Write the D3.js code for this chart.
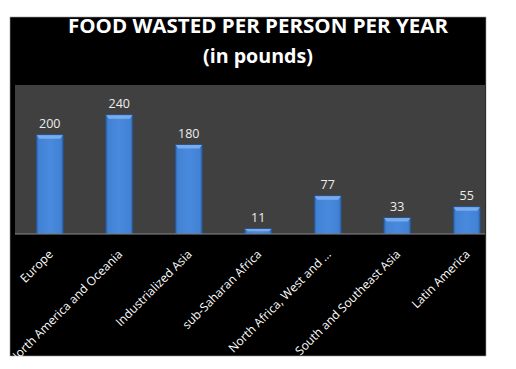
<!DOCTYPE html>
<html>
<head>
<meta charset="utf-8">
<script src="https://cdn.jsdelivr.net/npm/d3@7"></script>
<style>
  html, body { margin: 0; padding: 0; background: #fff; }
  svg { display: block; }
</style>
</head>
<body>
<div id="chart"></div>
<script>
// data
const regions = ["Europe", "North America and Oceania", "Industrialized Asia", "sub-Saharan Africa",
  "North Africa, West and ...", "South and Southeast Asia", "Latin America"];
const poundsWasted = [200, 240, 180, 11, 77, 33, 55];
const titleLines = ["FOOD WASTED PER PERSON PER YEAR", "(in pounds)"];

const W = 516, H = 369;
const box = { x: 10, y: 17, w: 476, h: 339 };      // black chart area
const plot = { left: 15, right: 485, top: 85, bottom: 234 };

const svg = d3.select("#chart").append("svg")
  .attr("width", W).attr("height", H);

const defs = svg.append("defs");
const grad = defs.append("linearGradient").attr("id", "barGrad")
  .attr("x1", 0).attr("x2", 1).attr("y1", 0).attr("y2", 0);
grad.append("stop").attr("offset", "0%").attr("stop-color", "#2d5c9c");
grad.append("stop").attr("offset", "9%").attr("stop-color", "#4282d4");
grad.append("stop").attr("offset", "50%").attr("stop-color", "#4a8ade");
grad.append("stop").attr("offset", "91%").attr("stop-color", "#4282d4");
grad.append("stop").attr("offset", "100%").attr("stop-color", "#2d5c9c");
defs.append("clipPath").attr("id", "plotClip")
  .append("rect").attr("x", plot.left).attr("y", plot.top - 30)
  .attr("width", plot.right - plot.left).attr("height", plot.bottom - plot.top + 30);

// background
svg.append("rect")
  .attr("x", box.x).attr("y", box.y).attr("width", box.w).attr("height", box.h)
  .attr("fill", "#000").attr("stroke", "#9a9a9a").attr("stroke-width", 0.6);

svg.append("rect")
  .attr("x", plot.left).attr("y", plot.top)
  .attr("width", plot.right - plot.left).attr("height", plot.bottom - plot.top)
  .attr("fill", "#404040");

// title
const title = svg.append("text")
  .attr("text-anchor", "middle")
  .attr("font-family", "'Open Sans', sans-serif")
  .attr("font-weight", 700)
  .attr("fill", "#fff");
title.append("tspan").attr("x", 258).attr("y", 33).attr("font-size", 20)
  .attr("textLength", 380).attr("lengthAdjust", "spacingAndGlyphs").text(titleLines[0]);
title.append("tspan").attr("x", 258).attr("y", 63).attr("font-size", 20)
  .attr("textLength", 110).attr("lengthAdjust", "spacingAndGlyphs").text(titleLines[1]);

// scales
const x = d3.scaleBand()
  .domain(regions)
  .range([plot.left, plot.left + 69.5 * 7])
  .paddingInner(0.61)
  .paddingOuter(0.305);

const y = d3.scaleLinear()
  .domain([0, 300])
  .range([plot.bottom, plot.top]);

const data = regions.map((r, i) => ({ region: r, value: poundsWasted[i] }));

const g = svg.append("g").attr("clip-path", "url(#plotClip)");

const bars = g.selectAll("g.bar")
  .data(data)
  .join("g")
  .attr("class", "bar");

bars.append("rect")
  .attr("x", d => x(d.region))
  .attr("y", d => y(d.value))
  .attr("width", x.bandwidth())
  .attr("height", d => y(0) - y(d.value))
  .attr("fill", "url(#barGrad)")
  .attr("stroke", "#27508a")
  .attr("stroke-width", 0.7);

// bevelled top of each bar
bars.append("path")
  .attr("d", d => {
    const x0 = x(d.region), x1 = x0 + x.bandwidth(), t = y(d.value);
    const b = Math.min(4, (y(0) - t) / 2);
    return `M${x0 + 0.5},${t + 0.5} L${x1 - 0.5},${t + 0.5} L${x1 - 3},${t + b} L${x0 + 3},${t + b} Z`;
  })
  .attr("fill", "#78acee");

// value labels
bars.append("text")
  .attr("x", d => x(d.region) + x.bandwidth() / 2)
  .attr("y", d => y(d.value) - 7)
  .attr("text-anchor", "middle")
  .attr("font-family", "'Open Sans', sans-serif")
  .attr("font-size", 12.5)
  .attr("fill", "#eeeeee")
  .text(d => d.value);

// baseline
svg.append("line")
  .attr("x1", plot.left).attr("x2", plot.right)
  .attr("y1", plot.bottom).attr("y2", plot.bottom)
  .attr("stroke", "#8a8a8a").attr("stroke-width", 1);

// category labels, rotated
svg.append("g")
  .selectAll("text")
  .data(regions)
  .join("text")
  .attr("transform", d => `translate(${x(d) + x.bandwidth() / 2 + 1},${plot.bottom + 18}) rotate(-45)`)
  .attr("text-anchor", "end")
  .attr("dy", "0.35em")
  .attr("font-family", "'Open Sans', sans-serif")
  .attr("font-size", 12)
  .attr("fill", "#fff")
  .text(d => d);
</script>
</body>
</html>
